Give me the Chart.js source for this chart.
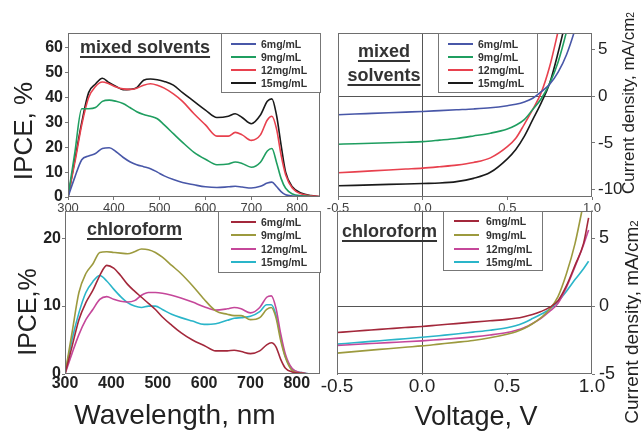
<!DOCTYPE html>
<html>
<head>
<meta charset="utf-8">
<script src="https://cdn.jsdelivr.net/npm/chart.js@4/dist/chart.umd.min.js"></script>
<style>
  html,body{margin:0;padding:0;background:#fff;}
  body{width:641px;height:431px;position:relative;overflow:hidden;font-family:"Liberation Sans",Arial,sans-serif;color:#222;}
  canvas{position:absolute;left:0;top:0;}
  .rot{position:absolute;white-space:nowrap;line-height:1;transform:translate(-50%,-50%) rotate(-90deg);}
  .ctr{position:absolute;white-space:nowrap;line-height:1;transform:translate(-50%,-50%);}
  .ann{position:absolute;white-space:nowrap;font-weight:bold;font-size:18px;text-decoration:underline;text-decoration-thickness:2px;text-underline-offset:3px;color:#333;line-height:24px;}
  .leg{position:absolute;background:#fff;border:1px solid #777;box-sizing:border-box;z-index:5;}
  .leg .row{position:absolute;height:12px;}
  .leg .ln{position:absolute;top:5px;height:2px;}
  .leg .lb{position:absolute;top:0;font-size:10.5px;font-weight:bold;color:#333;line-height:12px;white-space:nowrap;}
</style>
</head>
<body>
<canvas id="cTL" width="641" height="431"></canvas>
<canvas id="cTR" width="641" height="431"></canvas>
<canvas id="cBL" width="641" height="431"></canvas>
<canvas id="cBR" width="641" height="431"></canvas>

<div class="rot" style="left:23px;top:131px;font-size:26px;">IPCE, %</div>
<div class="rot" style="left:27px;top:312px;font-size:25px;">IPCE,%</div>
<div class="ctr" style="left:175px;top:415px;font-size:28px;">Wavelength, nm</div>
<div class="ctr" style="left:476px;top:416px;font-size:27px;">Voltage, V</div>
<div class="rot" style="left:628px;top:103px;font-size:17px;">Current density, mA/cm<span style="font-size:0.6em;">2</span></div>
<div class="rot" style="left:631px;top:322px;font-size:19px;">Current density, mA/cm<span style="font-size:0.6em;">2</span></div>

<div class="ann" style="left:80px;top:35px;">mixed solvents</div>
<div class="ann" style="left:384px;top:39px;transform:translateX(-50%);text-align:center;">mixed<br>solvents</div>
<div class="ann" style="left:87px;top:217px;">chloroform</div>
<div class="ann" style="left:342px;top:219px;">chloroform</div>

<div id="legTL" class="leg" style="left:221px;top:33px;width:100px;height:60px;"></div>
<div id="legTR" class="leg" style="left:438px;top:33px;width:100px;height:60px;"></div>
<div id="legBL" class="leg" style="left:218px;top:211px;width:103px;height:62px;"></div>
<div id="legBR" class="leg" style="left:443px;top:211px;width:100px;height:60px;"></div>

<script>
// ---------------- DATA ----------------
const seriesLabels = ["6mg/mL", "9mg/mL", "12mg/mL", "15mg/mL"];

// IPCE spectra, wavelength (nm)
const wavelengths = [300,315,330,345,360,375,390,405,420,435,450,465,480,495,510,530,550,575,600,625,650,665,680,700,720,735,745,755,765,775,790,810,830,850];

// mixed solvents IPCE (%)
const ipceMixed6  = [0,8,15,16.5,17.5,19.5,19.8,18.2,16,14.2,13,12.2,11.4,10,8.5,7,5.8,4.9,4.1,3.8,4.1,4.3,4,3.6,4.3,5.6,6,4.2,2.2,0.9,0.4,0.2,0.1,0];
const ipceMixed9  = [0,18,35.5,35.5,36,38.5,39,38.5,37.6,36,34.3,33.2,32.5,31.5,29,25.5,22,18,15.2,13,13.3,14.1,13.5,12,14,18.5,19.5,14,7.5,3.5,1.2,0.5,0.2,0];
const ipceMixed12 = [0,14,29,40,44.5,46.3,45.5,44.3,43.5,43.3,43.8,45,45.6,45,43.8,41.5,38.5,33.5,29,24.5,24.5,26,25,22.8,25,31,32.5,27.5,17,9,3.5,1.2,0.5,0.2];
const ipceMixed15 = [0,15,30,42,45.5,47.8,46,44.5,43.2,43.3,44,47,47.5,47.2,46.5,45,42,38.5,35,32,32.5,33.5,32,29.5,33,38.5,39.5,33,21,10,4,1.5,0.6,0.2];

// chloroform IPCE (%)
const ipceChl6  = [0,4,8,10.5,12.3,14.5,16,15.6,14.5,13.2,12.2,11.3,10.4,9.5,8.4,7.2,6.1,5,4.2,3.4,3.4,3.5,3.3,3,3.4,4.3,4.6,4,2.2,0.9,0.3,0.1,0,0];
const ipceChl9  = [0,6,12,14.8,16.2,17.9,18,17.9,17.8,17.7,18,18.4,18.3,17.9,17.2,16,14.8,13,11,9.3,8.8,8.6,8.6,8,8.3,9.5,9.8,8.3,5,2.5,0.5,0.1,0,0];
const ipceChl12 = [0,3,5.8,8,9.5,11,11.4,11,10.7,10.6,10.8,11.6,12,12,11.9,11.6,11.2,10.6,9.9,9.4,9.6,9.8,9.6,9,9.8,11.3,11.5,9.7,6,3,0.8,0.2,0,0];
const ipceChl15 = [0,5,9,12,13.6,14.5,13.7,12.5,11.4,10.5,10,9.8,10,10,9.5,8.8,8.3,7.8,7.3,7.4,7.9,8.2,8.3,8.5,9.2,10.2,10.2,8.7,5.5,2.6,0.7,0.2,0,0];

// J-V curves, voltage (V)
const voltages = [-0.5,-0.4,-0.3,-0.2,-0.1,0,0.1,0.2,0.3,0.4,0.5,0.55,0.6,0.65,0.7,0.75,0.8,0.85,0.9,0.95,0.98];

// mixed solvents current density (mA/cm2)
const jvMixed6  = [-1.98,-1.9,-1.83,-1.76,-1.69,-1.62,-1.53,-1.44,-1.35,-1.22,-1.0,-0.85,-0.6,-0.2,0.5,1.3,2.6,4.5,7.2,10.5,12.5];
const jvMixed9  = [-5.14,-5.08,-5.03,-4.97,-4.92,-4.86,-4.7,-4.52,-4.25,-3.95,-3.5,-3.1,-2.5,-1.4,-0.25,1.4,3.7,7,11,15,17.5];
const jvMixed12 = [-8.2,-8.1,-8.0,-7.9,-7.8,-7.7,-7.55,-7.38,-7.1,-6.6,-5.4,-4.5,-3.0,-1.4,0.4,3.2,7,11,15,19,21.5];
const jvMixed15 = [-9.6,-9.55,-9.5,-9.45,-9.4,-9.35,-9.3,-9.15,-8.8,-8.15,-6.7,-5.7,-4.3,-2.5,-0.7,1.4,4.7,8.5,12.5,16.5,19];

// chloroform current density (mA/cm2)
const jvChl6  = [-1.95,-1.85,-1.76,-1.67,-1.58,-1.5,-1.39,-1.29,-1.18,-1.08,-0.98,-0.9,-0.78,-0.62,-0.4,-0.1,0.4,1.5,3.0,4.6,6.5];
const jvChl9  = [-3.46,-3.35,-3.24,-3.14,-3.03,-2.93,-2.8,-2.67,-2.53,-2.33,-2.07,-1.9,-1.65,-1.3,-0.85,-0.25,0.7,2.4,4.6,7.6,9.5];
const jvChl12 = [-2.9,-2.83,-2.76,-2.69,-2.63,-2.56,-2.47,-2.38,-2.27,-2.13,-1.95,-1.8,-1.6,-1.28,-0.9,-0.4,0.2,1.4,2.9,4.5,5.6];
const jvChl15 = [-2.8,-2.7,-2.6,-2.5,-2.4,-2.3,-2.18,-2.06,-1.92,-1.78,-1.6,-1.45,-1.22,-0.92,-0.6,-0.25,0.35,1.1,1.95,2.75,3.3];

// tick values
const wavelengthTicks = [300,400,500,600,700,800];
const ipceMixedTicks = [0,10,20,30,40,50,60];
const ipceChlTicks = [0,10,20];
const voltageTicks = [-0.5,0,0.5,1.0];
const jvMixedTicks = [-10,-5,0,5];
const jvChlTicks = [-5,0,5];

// ---------------- STYLE ----------------
const mixedColors = ["#4857a8","#1f9e60","#e8414e","#1a1a1a"];
const chlColors = ["#a3283b","#9c9a3e","#c5479a","#2ab5c9"];
const FONT = '"Liberation Sans", Arial, sans-serif';
const W = 641, H = 431;

const frame = {
  id:'frame',
  afterDatasetsDraw(c){
    const {ctx, chartArea:a} = c;
    ctx.save();
    ctx.strokeStyle = '#6e6e6e';
    ctx.lineWidth = 1;
    ctx.strokeRect(Math.round(a.left)+0.5, Math.round(a.top)+0.5, Math.round(a.right-a.left)-1, Math.round(a.bottom-a.top)-1);
    ctx.restore();
  }
};

function makeDatasets(xs, ysList, colors){
  return ysList.map((ys,i)=>({
    label: seriesLabels[i],
    data: xs.map((x,j)=>({x:x, y:ys[j]})),
    borderColor: colors[i],
    backgroundColor: colors[i],
    borderWidth: 1.6,
    pointRadius: 0,
    fill: false,
    cubicInterpolationMode: 'monotone'
  }));
}

function setTicks(arr){ return s => { s.ticks = arr.map(v=>({value:v})); }; }

function axis(o){
  return {
    type:'linear',
    position:o.position,
    min:o.min, max:o.max,
    afterFit: s => { if (s.isHorizontal()) s.height = o.box; else s.width = o.box; },
    afterBuildTicks: setTicks(o.ticks),
    border:{display:false},
    grid:{
      drawOnChartArea: !!o.zeroLine,
      color: ctx => (o.zeroLine && ctx.tick && ctx.tick.value === 0) ? '#555' : 'rgba(0,0,0,0)',
      lineWidth: 1,
      drawTicks: true,
      tickLength: o.tickLength != null ? o.tickLength : 3,
      tickColor: '#777'
    },
    ticks:{
      autoSkip:false, maxRotation:0, minRotation:0,
      padding:o.padding,
      color:o.color || '#222',
      font:{family:FONT, size:o.size, weight:o.bold ? 'bold' : 'normal'},
      callback: o.fmt || (v => String(v))
    }
  };
}

function makeChart(id, area, datasets, xOpt, yOpt){
  const pad = {top: area.t, bottom: H - area.b - xOpt.box, left: area.l, right: W - area.r};
  if (yOpt.position === 'left') pad.left -= yOpt.box; else pad.right -= yOpt.box;
  return new Chart(document.getElementById(id), {
    type:'line',
    data:{datasets},
    options:{
      responsive:false, animation:false, devicePixelRatio:1,
      layout:{padding:pad},
      plugins:{legend:{display:false}, tooltip:{enabled:false}},
      scales:{x:axis(xOpt), y:axis(yOpt)}
    },
    plugins:[frame]
  });
}

function buildLegend(divId, chart, lineL, lineW, textL, rowTops){
  const div = document.getElementById(divId);
  chart.data.datasets.forEach((ds,i)=>{
    const row = document.createElement('div');
    row.className = 'row';
    row.style.top = rowTops[i] + 'px';
    row.style.left = '0px';
    row.style.width = '100%';
    const ln = document.createElement('div');
    ln.className = 'ln';
    ln.style.left = lineL + 'px';
    ln.style.width = lineW + 'px';
    ln.style.background = ds.borderColor;
    const lb = document.createElement('div');
    lb.className = 'lb';
    lb.style.left = textL + 'px';
    lb.textContent = ds.label;
    row.appendChild(ln); row.appendChild(lb);
    div.appendChild(row);
  });
}

const vfmt = v => Number(v).toFixed(1);

// Top-left: IPCE mixed solvents
const chTL = makeChart('cTL', {l:68, r:320, t:33, b:197},
  makeDatasets(wavelengths, [ipceMixed6, ipceMixed9, ipceMixed12, ipceMixed15], mixedColors),
  {position:'bottom', box:16, min:300, max:850, ticks:wavelengthTicks, size:13, bold:false, padding:1, color:'#444'},
  {position:'left', box:68, min:0, max:66, ticks:ipceMixedTicks, size:16, bold:true, padding:2});

// Top-right: J-V mixed solvents
const chTR = makeChart('cTR', {l:338, r:592, t:33, b:197},
  makeDatasets(voltages, [jvMixed6, jvMixed9, jvMixed12, jvMixed15], mixedColors),
  {position:'bottom', box:16, min:-0.5, max:1.0, ticks:voltageTicks, size:13, bold:false, padding:1, color:'#444', zeroLine:true, fmt:vfmt},
  {position:'right', box:49, min:-10.8, max:6.8, ticks:jvMixedTicks, size:17, bold:false, padding:3, zeroLine:true});

// Bottom-left: IPCE chloroform
const chBL = makeChart('cBL', {l:65, r:320, t:211, b:374},
  makeDatasets(wavelengths, [ipceChl6, ipceChl9, ipceChl12, ipceChl15], chlColors),
  {position:'bottom', box:28, min:300, max:850, ticks:wavelengthTicks, size:16, bold:true, padding:0, tickLength:0},
  {position:'left', box:65, min:0, max:24, ticks:ipceChlTicks, size:16, bold:true, padding:1});

// Bottom-right: J-V chloroform
const chBR = makeChart('cBR', {l:337, r:592, t:211, b:374},
  makeDatasets(voltages, [jvChl6, jvChl9, jvChl12, jvChl15], chlColors),
  {position:'bottom', box:28, min:-0.5, max:1.0, ticks:voltageTicks, size:19, bold:false, padding:0, tickLength:1, zeroLine:true, fmt:vfmt},
  {position:'right', box:49, min:-5, max:7, ticks:jvChlTicks, size:18, bold:false, padding:4, zeroLine:true});

buildLegend('legTL', chTL, 9, 25, 39, [4,17,30,43]);
buildLegend('legTR', chTR, 9, 25, 39, [4,17,30,43]);
buildLegend('legBL', chBL, 12, 25, 42, [4,17,31,44]);
buildLegend('legBR', chBR, 10, 25, 42, [3,17,31,44]);
</script>
</body>
</html>
